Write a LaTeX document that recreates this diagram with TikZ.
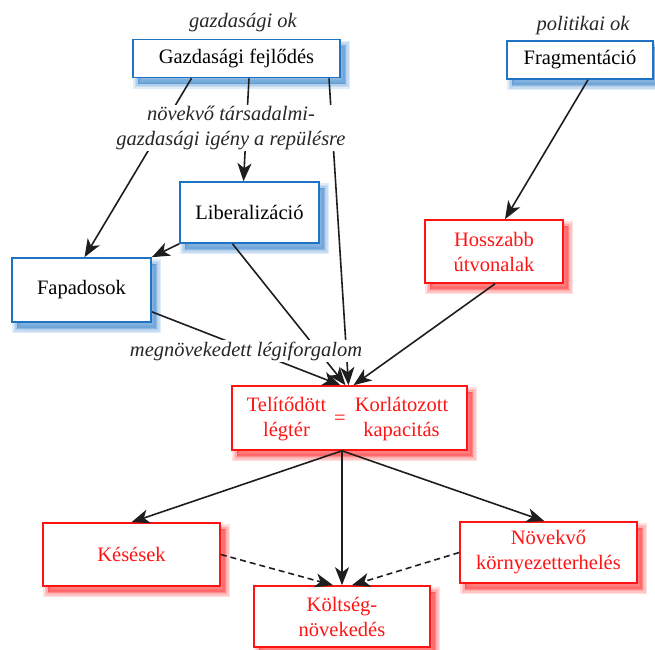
\documentclass[tikz,border=0pt]{standalone}
\usepackage{fontspec}
\setmainfont{LiberationSerif}[Extension=.ttf, UprightFont=*-Regular, ItalicFont=*-Italic, BoldFont=*-Bold, BoldItalicFont=*-BoldItalic]
\newfontfamily\tms{LiberationSerif}[Extension=.ttf, UprightFont=*-Regular, ItalicFont=*-Italic, BoldFont=*-Bold, BoldItalicFont=*-BoldItalic]
\usetikzlibrary{arrows.meta,calc}
\definecolor{bbord}{RGB}{30,115,195}
\definecolor{rbord}{RGB}{255,20,20}
\definecolor{ln}{RGB}{30,30,30}
\begin{document}
\begin{tikzpicture}[x=1pt,y=-1pt,
  shlayer/.style 2 args={preaction={draw=#1, fill=#1, line width=#2, opacity=0.16,
      transform canvas={shift={(5pt,-6pt)}}}},
  softshadow/.style={shlayer={#1}{10pt}, shlayer={#1}{7pt}, shlayer={#1}{4pt}, shlayer={#1}{1pt}, shlayer={#1}{0pt}},
  box/.style={rectangle, fill=white, line width=1.6pt, inner sep=2pt, align=center,
    font=\tms\fontsize{20.5}{25}\selectfont},
  bluebox/.style={box, softshadow=bbord!85, draw=bbord, text=black},
  redbox/.style={box, softshadow=rbord!85, draw=rbord, text=rbord},
  plain/.style={inner sep=0pt, align=center, text=rbord, font=\tms\fontsize{20.5}{25}\selectfont},
  lab/.style={font=\tms\itshape\fontsize{20.5}{25}\selectfont, fill=white, inner sep=1.5pt, align=center, text=black!85},
  toplab/.style={font=\tms\itshape\fontsize{20.5}{25}\selectfont, inner sep=1pt, text=black!85},
  conn/.style={draw=ln, line width=1.6pt, -{Stealth[length=18pt,width=14pt,inset=5pt]}},
  dconn/.style={conn, dash pattern=on 6pt off 4pt}
]
\useasboundingbox (0,0) rectangle (655,649);

% boxes
\node[bluebox, minimum width=207pt, minimum height=38pt] (gf) at (236.5,58.5) {Gazdasági fejlődés};
\node[bluebox, minimum width=146pt, minimum height=38pt] (frag) at (580,60) {Fragmentáció};
\node[bluebox, minimum width=139pt, minimum height=61pt] (lib) at (249.5,212.5) {Liberalizáció};
\node[bluebox, minimum width=139pt, minimum height=64pt] (fap) at (81.5,290) {Fapadosok};
\node[redbox, minimum width=138pt, minimum height=63pt] (hossz) at (494,251.5) {Hosszabb\\útvonalak};
\node[redbox, minimum width=235pt, minimum height=64pt] (tel) at (349.5,418) {};
\node[plain] (tel1) at (286.5,419.5) {Telítődött\\légtér};
\node[plain] (eq) at (340,420) {=};
\node[plain] (tel2) at (401.5,419.5) {Korlátozott\\kapacitás};
\node[redbox, minimum width=177pt, minimum height=63pt] (kes) at (131.5,554.5) {Késések};
\node[redbox, minimum width=176pt, minimum height=61pt] (kolt) at (342,616.5) {Költség-\\növekedés};
\node[redbox, minimum width=177pt, minimum height=61pt] (nov) at (548.5,552.5) {Növekvő\\környezetterhelés};

% connectors
\draw[conn] ([xshift=12.5pt]gf.south) -- ([xshift=-6pt]lib.north);
\draw[conn] ([xshift=-45pt]gf.south) -- ([xshift=3pt]fap.north);
\draw[conn] (lib.south west) -- (fap.north east);
\draw[conn] ([xshift=8pt]frag.south) -- ([xshift=11pt]hossz.north);
\draw[conn] ([yshift=11pt]fap.south east) -- ([xshift=-9pt]tel.north);
\draw[conn] ([xshift=-17pt]lib.south) -- ([xshift=-4pt]tel.north);
\draw[conn] ([xshift=92.5pt]gf.south) -- ([xshift=-1pt]tel.north);
\draw[conn] ([xshift=1pt]hossz.south) -- ([xshift=4pt]tel.north);
\draw[conn] ([xshift=-7.5pt]tel.south) -- (kes.north);
\draw[conn] ([xshift=-7.5pt]tel.south) -- (kolt.north);
\draw[conn] ([xshift=-7.5pt]tel.south) -- ([xshift=-4pt]nov.north);
\draw[dconn] (kes.east) -- ([xshift=-9pt]kolt.north);
\draw[dconn] (nov.west) -- ([xshift=10pt]kolt.north);

% labels
\node[toplab] (gok) at (243,23) {gazdasági ok};
\node[toplab] (pok) at (583,26) {politikai ok};
\node[lab] (igeny) at (231,128) {növekvő társadalmi-\\gazdasági igény a repülésre};
\node[lab] (forg) at (246,351) {megnövekedett légiforgalom};
\end{tikzpicture}
\end{document}
